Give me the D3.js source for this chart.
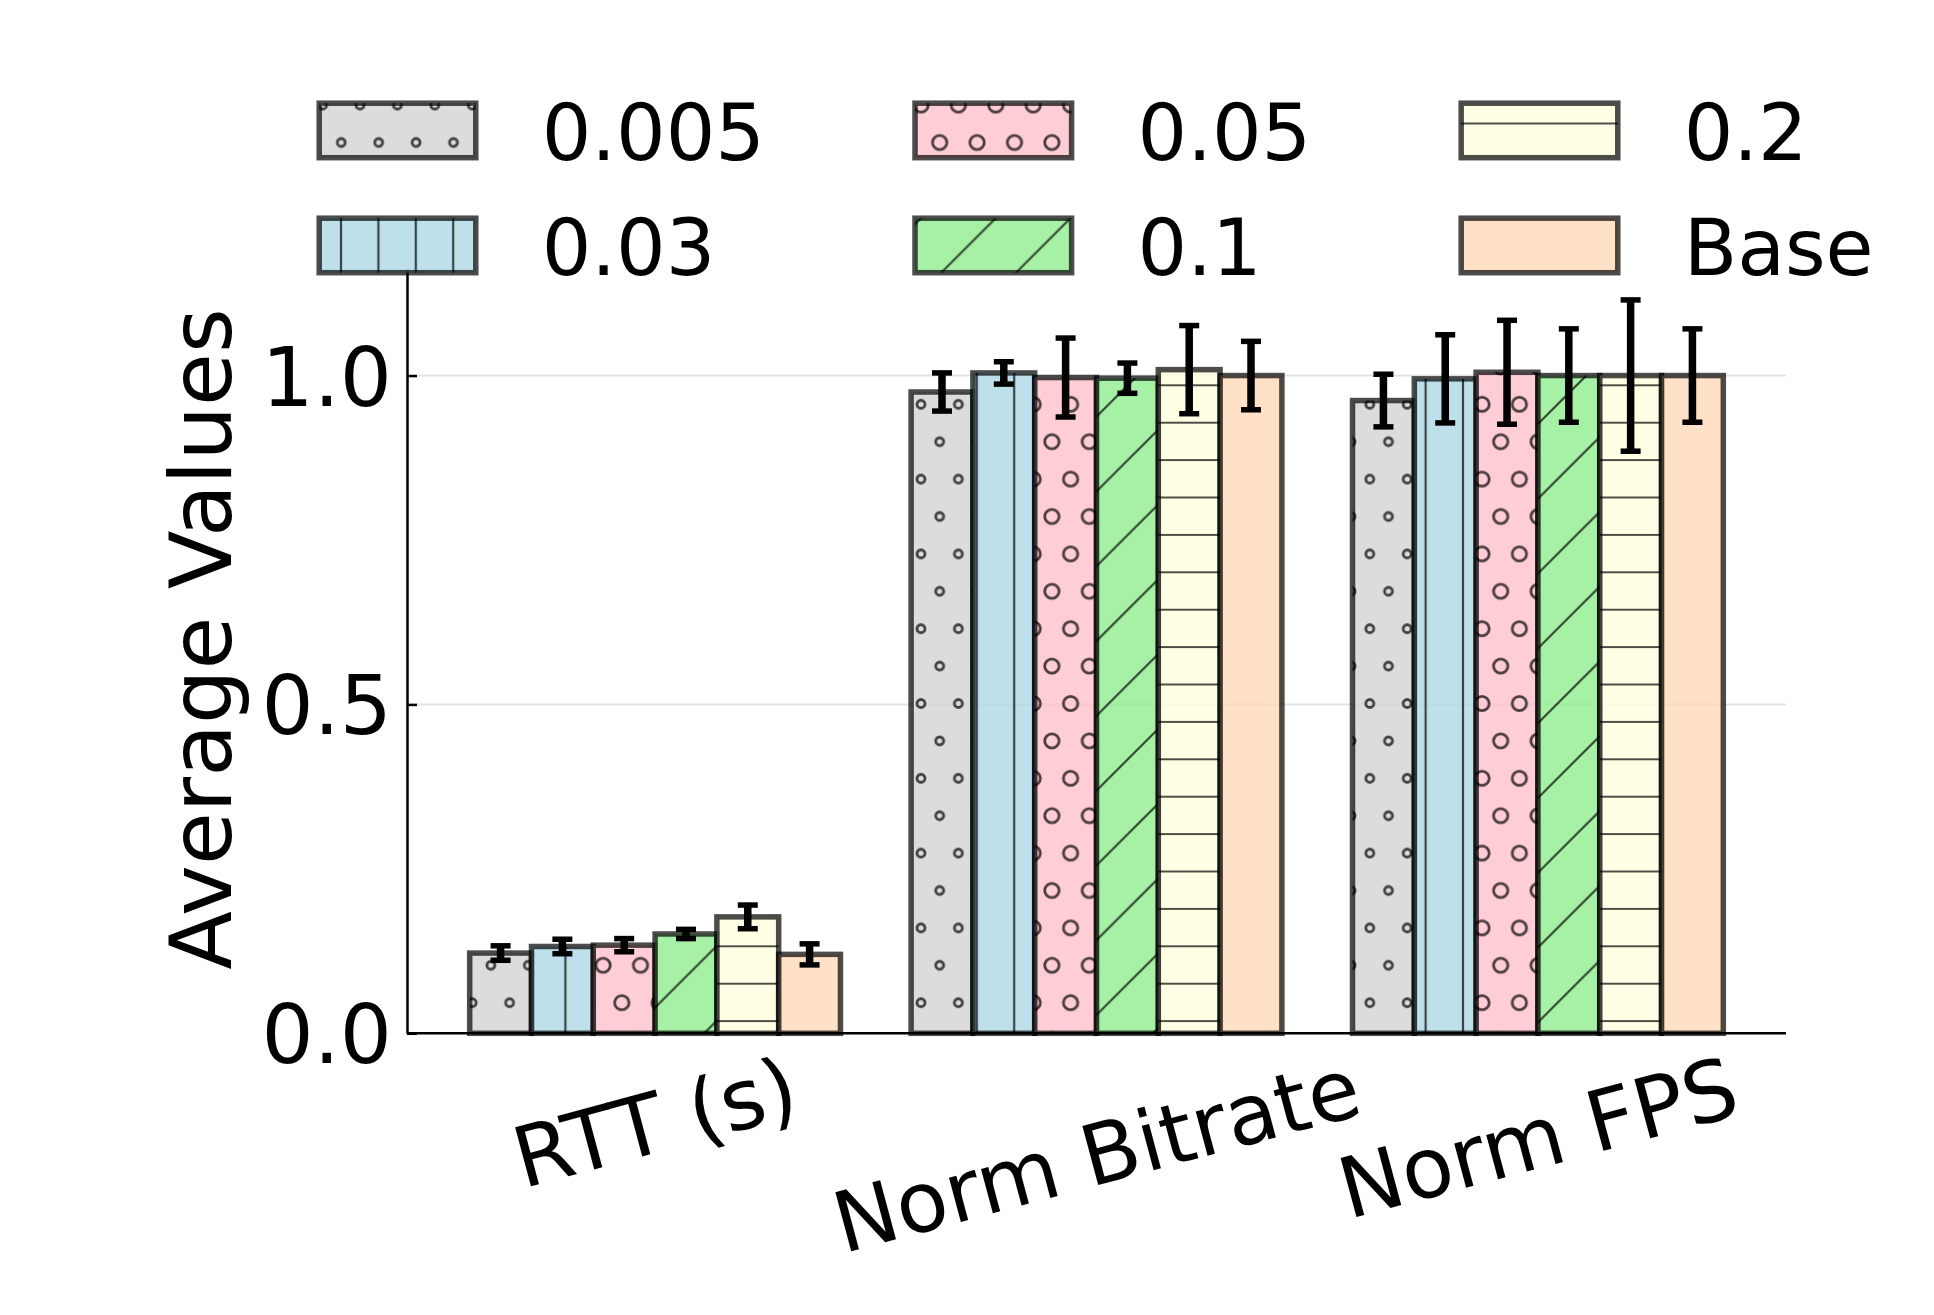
<!DOCTYPE html>
<html>
<head>
<meta charset="utf-8">
<script src="https://cdn.jsdelivr.net/npm/d3@7"></script>
<style>
  body { margin: 0; background: #fff; }
  text { font-family: "DejaVu Sans", sans-serif; fill: #000; }
</style>
</head>
<body>
<div id="chart"></div>
<script>
// data
const categories = ["RTT (s)", "Norm Bitrate", "Norm FPS"];
const seriesNames = ["0.005", "0.03", "0.05", "0.1", "0.2", "Base"];
const seriesColors = ["lightgray", "lightblue", "pink", "lightgreen", "lightyellow", "peachpuff"];
const seriesHatch = ["o", "|", "O", "/", "-", ""];

const mean_0005 = [0.122, 0.975, 0.962];
const mean_003  = [0.132, 1.004, 0.995];
const mean_005  = [0.134, 0.997, 1.005];
const mean_01   = [0.151, 0.996, 1.000];
const mean_02   = [0.177, 1.009, 1.000];
const mean_base = [0.120, 1.000, 1.000];

const err_0005 = [0.011, 0.029, 0.040];
const err_003  = [0.011, 0.017, 0.067];
const err_005  = [0.010, 0.060, 0.079];
const err_01   = [0.007, 0.023, 0.071];
const err_02   = [0.018, 0.067, 0.115];
const err_base = [0.016, 0.052, 0.071];

const yTicks = [0, 0.5, 1.0];

const means = [mean_0005, mean_003, mean_005, mean_01, mean_02, mean_base];
const errs = [err_0005, err_003, err_005, err_01, err_02, err_base];

let width = 1934, height = 1315;
let svg = d3.select("#chart").append("svg")
    .attr("width", width)
    .attr("height", height);

let x = d3.scaleLinear().domain([-0.562, 2.562]).range([407, 1786]);
let y = d3.scaleLinear().domain([0, 1.162]).range([1033.3, 269]);
let barW = 0.14;
let alphaFace = 0.8, edgeCol = "rgba(0,0,0,0.7)";

// hatch patterns, anchored on the page like matplotlib does
let P = 37.4;
let defs = svg.append("defs");
function circles(id, r) {
    let p = defs.append("pattern").attr("id", id)
        .attr("patternUnits", "userSpaceOnUse")
        .attr("x", 4.7).attr("y", 67.7).attr("width", P).attr("height", 2 * P);
    [[0, 0], [P, 0], [0, 2 * P], [P, 2 * P], [P / 2, P]].forEach(function (c) {
        p.append("circle").attr("cx", c[0]).attr("cy", c[1]).attr("r", r)
            .attr("fill", "none").attr("stroke", edgeCol).attr("stroke-width", 2.8);
    });
}
circles("h0", 4);
circles("h2", 7.2);
let pv = defs.append("pattern").attr("id", "h1").attr("patternUnits", "userSpaceOnUse")
    .attr("x", 4.4 - P / 2).attr("y", 0).attr("width", P).attr("height", P);
pv.append("line").attr("x1", P / 2).attr("x2", P / 2).attr("y1", 0).attr("y2", P)
    .attr("stroke", edgeCol).attr("stroke-width", 2.2);
let ph = defs.append("pattern").attr("id", "h4").attr("patternUnits", "userSpaceOnUse")
    .attr("x", 0).attr("y", 11.3 - P / 2).attr("width", P).attr("height", P);
ph.append("line").attr("y1", P / 2).attr("y2", P / 2).attr("x1", 0).attr("x2", P)
    .attr("stroke", edgeCol).attr("stroke-width", 2.2);
let pd = defs.append("pattern").attr("id", "h3").attr("patternUnits", "userSpaceOnUse")
    .attr("x", 17.1).attr("y", 0).attr("width", 2 * P).attr("height", 2 * P);
[[0, 2 * P, 2 * P, 0], [-5, 5, 5, -5], [2 * P - 5, 2 * P + 5, 2 * P + 5, 2 * P - 5]].forEach(function (l) {
    pd.append("line").attr("x1", l[0]).attr("y1", l[1]).attr("x2", l[2]).attr("y2", l[3])
        .attr("stroke", edgeCol).attr("stroke-width", 2.2);
});
function hatchFill(i) {
    return seriesHatch[i] ? "url(#h" + i + ")" : "none";
}

// grid below the bars
svg.append("g").selectAll("line")
    .data(yTicks.filter(d => d > 0))
    .enter().append("line")
    .attr("x1", x.range()[0]).attr("x2", x.range()[1])
    .attr("y1", d => y(d)).attr("y2", d => y(d))
    .attr("stroke", "#e3e3e3").attr("stroke-width", 2);

// bars
let bars = svg.append("g");
seriesNames.forEach(function (name, i) {
    categories.forEach(function (cat, j) {
        let x0 = x(j + (i - 3) * barW), x1 = x(j + (i - 2) * barW);
        let g = bars.append("g");
        g.append("rect")
            .attr("x", x0).attr("y", y(means[i][j]))
            .attr("width", x1 - x0).attr("height", y(0) - y(means[i][j]))
            .attr("fill", seriesColors[i]).attr("fill-opacity", alphaFace);
        g.append("rect")
            .attr("x", x0).attr("y", y(means[i][j]))
            .attr("width", x1 - x0).attr("height", y(0) - y(means[i][j]))
            .attr("fill", hatchFill(i))
            .attr("stroke", edgeCol).attr("stroke-width", 5.5);
    });
});

// error bars
let eb = svg.append("g");
seriesNames.forEach(function (name, i) {
    categories.forEach(function (cat, j) {
        let cx = x(j + (i - 2.5) * barW);
        let lo = y(means[i][j] - errs[i][j]), hi = y(means[i][j] + errs[i][j]);
        eb.append("line").attr("x1", cx).attr("x2", cx).attr("y1", lo).attr("y2", hi)
            .attr("stroke", "#000").attr("stroke-width", 7.5);
        [lo, hi].forEach(function (yy) {
            eb.append("line").attr("x1", cx - 10).attr("x2", cx + 10)
                .attr("y1", yy).attr("y2", yy)
                .attr("stroke", "#000").attr("stroke-width", 5.5);
        });
    });
});

// axes
let yAxis = svg.append("g")
    .attr("transform", "translate(" + x.range()[0] + ",0)")
    .call(d3.axisLeft(y).tickValues(yTicks).tickFormat(d3.format(".1f"))
        .tickSize(-10).tickSizeOuter(0).tickPadding(15));
yAxis.select(".domain").attr("stroke", "#000").attr("stroke-width", 2.5);
yAxis.selectAll(".tick line").attr("stroke", "#000").attr("stroke-width", 2.5);
yAxis.selectAll(".tick text").attr("font-size", 82)
    .style("font-family", "DejaVu Sans").attr("dy", "0.36em");

svg.append("line")
    .attr("x1", x.range()[0]).attr("x2", x.range()[1])
    .attr("y1", y(0)).attr("y2", y(0))
    .attr("stroke", "#000").attr("stroke-width", 2.5);

// rotated category labels
let rot = 15, rad = rot * Math.PI / 180, fsX = 84;
categories.forEach(function (cat, j) {
    let g = svg.append("g");
    let t = g.append("text").attr("text-anchor", "middle").attr("font-size", fsX)
        .attr("dy", "0.35em").text(cat);
    let w = t.node().getComputedTextLength();
    let cy = 1038 + (w * Math.sin(rad) + 1.164 * fsX * Math.cos(rad)) / 2;
    g.attr("transform", "translate(" + x(j) + "," + cy + ") rotate(" + (-rot) + ")");
});

svg.append("text")
    .attr("transform", "translate(201,639) rotate(-90)")
    .attr("text-anchor", "middle")
    .attr("dy", "0.35em")
    .attr("font-size", 86)
    .text("Average Values");

// legend, 3 columns filled column-wise
let fsL = 78, patchW = 156.6, patchH = 54.5;
let rowY = [103.2, 218.2];
let leg = svg.append("g");
let texts = seriesNames.map(function (name, k) {
    return leg.append("text").attr("font-size", fsL).text(name);
});
let colX = [319.2];
for (let c = 0; c < 2; c++) {
    let wMax = Math.max(texts[2 * c].node().getComputedTextLength(),
        texts[2 * c + 1].node().getComputedTextLength());
    colX.push(colX[c] + 222.5 + wMax + 150);
}
seriesNames.forEach(function (name, k) {
    let c = Math.floor(k / 2), r = k % 2;
    leg.insert("rect", "text").attr("x", colX[c]).attr("y", rowY[r])
        .attr("width", patchW).attr("height", patchH)
        .attr("fill", seriesColors[k]).attr("fill-opacity", alphaFace);
    leg.insert("rect", "text").attr("x", colX[c]).attr("y", rowY[r])
        .attr("width", patchW).attr("height", patchH)
        .attr("fill", hatchFill(k))
        .attr("stroke", edgeCol).attr("stroke-width", 5.5);
    texts[k].attr("x", colX[c] + 222.5).attr("y", rowY[r] + patchH / 2 + 29.3);
});
</script>
</body>
</html>
